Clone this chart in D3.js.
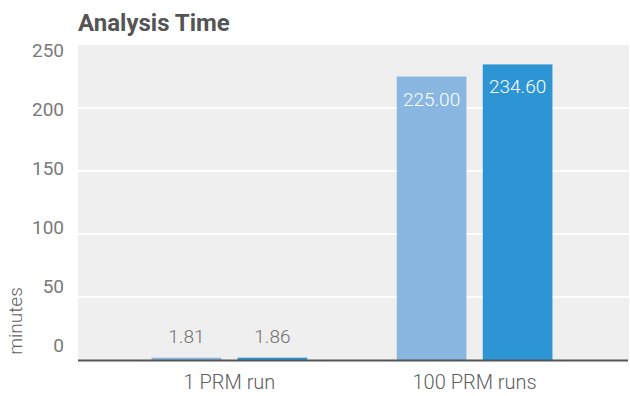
<!DOCTYPE html>
<html>
<head>
<meta charset="utf-8">
<script src="https://cdn.jsdelivr.net/npm/d3@7"></script>
<style>
  html, body { margin: 0; padding: 0; background: #fff; }
  svg { display: block; font-family: Roboto, "Noto Sans", sans-serif; }
</style>
</head>
<body>
<svg id="chart" width="630" height="396"></svg>
<script>
// Chart data
const categories = ["1 PRM run", "100 PRM runs"];
const seriesNames = ["Series A", "Series B"];
const seriesA = [1.81, 225.00];
const seriesB = [1.86, 234.60];
const valueLabels = [["1.81", "225.00"], ["1.86", "234.60"]];
const yTicks = [0, 50, 100, 150, 200, 250];
const title = "Analysis Time";
const yTitle = "minutes";

const colors = ["#89b7e1", "#2e95d5"];

const svg = d3.select("#chart");
const plot = { left: 78, right: 629, top: 45, bottom: 360 };

const y = d3.scaleLinear().domain([0, 250]).range([plot.bottom, plot.top]);
// tick labels sit on a slightly tighter track than the gridlines
const yLabel = d3.scaleLinear().domain([0, 250]).range([plot.bottom - 15, plot.top + 5]);
const x0 = d3.scaleBand().domain(categories)
  .range([plot.left, plot.right - 3])
  .paddingInner(0.365).paddingOuter(0.3);
const x1 = d3.scaleBand().domain(seriesNames)
  .range([0, x0.bandwidth()])
  .paddingInner(0.19).paddingOuter(0);

// plot background
svg.append("rect")
  .attr("x", plot.left).attr("y", plot.top)
  .attr("width", plot.right - plot.left).attr("height", plot.bottom - plot.top)
  .attr("fill", "#efefef");

// gridlines
svg.append("g").selectAll("line").data(yTicks.filter(t => t > 0 && t < 250)).join("line")
  .attr("x1", plot.left).attr("x2", plot.right)
  .attr("y1", d => y(d)).attr("y2", d => y(d))
  .attr("stroke", "#ffffff").attr("stroke-width", 2);

// y axis labels
const yAxis = d3.axisLeft(yLabel).tickValues(yTicks).tickSize(0).tickPadding(14);
const yg = svg.append("g").attr("transform", `translate(${plot.left},0)`).call(yAxis);
yg.select(".domain").remove();
yg.selectAll(".tick text")
  .attr("font-size", 19)
  .attr("font-weight", 400)
  .attr("font-family", "Roboto, sans-serif")
  .attr("fill", "#7a7a7a");

// bars
const rows = categories.map((c, i) => ({ cat: c, vals: [seriesA[i], seriesB[i]] }));
const groups = svg.append("g").selectAll("g").data(rows).join("g")
  .attr("transform", d => `translate(${x0(d.cat)},0)`);

groups.selectAll("rect").data((d, i) => d.vals.map((v, s) => ({ v, s, i }))).join("rect")
  .attr("x", d => x1(seriesNames[d.s]))
  .attr("width", x1.bandwidth())
  .attr("y", d => y(d.v))
  .attr("height", d => y(0) - y(d.v))
  .attr("fill", d => colors[d.s]);

// value labels: inside tall bars, above short bars
groups.selectAll("text").data((d, i) => d.vals.map((v, s) => ({ v, s, i }))).join("text")
  .attr("x", d => x1(seriesNames[d.s]) + x1.bandwidth() / 2)
  .attr("y", d => (y(0) - y(d.v)) > 40 ? y(d.v) + 29 : y(d.v) - 15)
  .attr("text-anchor", "middle")
  .attr("font-size", 19)
  .attr("font-weight", 300)
  .attr("fill", d => (y(0) - y(d.v)) > 40 ? "#ffffff" : "#707070")
  .text(d => valueLabels[d.s][d.i]);

// baseline
svg.append("line")
  .attr("x1", plot.left).attr("x2", plot.right - 1)
  .attr("y1", y(0) + 0.5).attr("y2", y(0) + 0.5)
  .attr("stroke", "#555").attr("stroke-width", 2);

// x axis labels
const xAxis = d3.axisBottom(x0).tickSize(0).tickPadding(15);
const xg = svg.append("g").attr("transform", `translate(0,${plot.bottom})`).call(xAxis);
xg.select(".domain").remove();
xg.selectAll(".tick text")
  .attr("font-size", 20)
  .attr("font-weight", 300)
  .attr("font-family", "Roboto, sans-serif")
  .attr("fill", "#606060");

// title
svg.append("text")
  .attr("x", plot.left).attr("y", 31)
  .attr("font-size", 24).attr("font-weight", "bold")
  .attr("fill", "#555")
  .text(title);

// y axis title
svg.append("text")
  .attr("transform", "translate(22,321) rotate(-90)")
  .attr("text-anchor", "middle")
  .attr("font-size", 19)
  .attr("font-weight", 300)
  .attr("fill", "#606060")
  .text(yTitle);
</script>
</body>
</html>
